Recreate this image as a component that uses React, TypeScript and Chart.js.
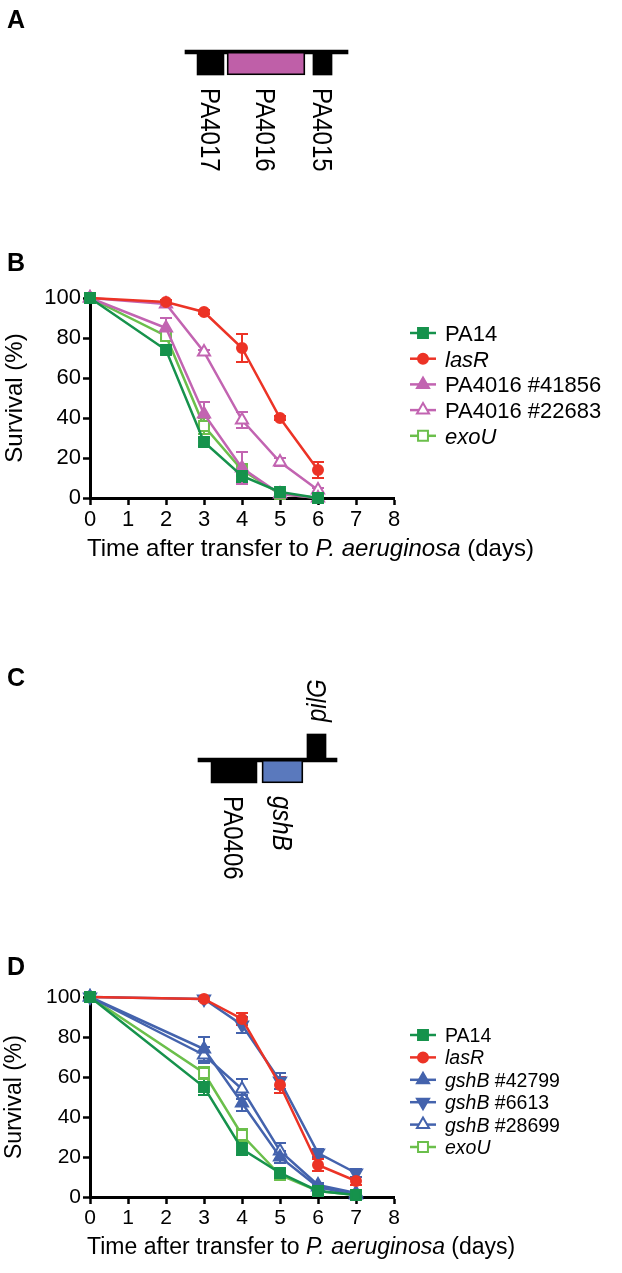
import React, { useEffect, useRef } from 'react';
import { Chart, registerables } from 'chart.js';
import { drawPoint } from 'chart.js/helpers';

Chart.register(...registerables);

const FONT = '"Liberation Sans", Arial, Helvetica, sans-serif';

// ---------- Panel A : gene neighbourhood of PA4016 ----------
const geneANames = ['PA4017', 'PA4016', 'PA4015'];
const geneAStart = [7.4, 25.8, 78.5];
const geneAEnd = [23.9, 73.6, 90.2];
const geneAStrand = [-1, -1, -1];
const geneAItalic = [false, false, false];
const geneAContig = [0, 100];

// ---------- Panel B : survival, PA4016 mutants ----------
const daysB = [0, 2, 3, 4, 5, 6];
const pa14B = [100, 74, 28, 11, 3, 0];
const pa14BErr = [0, 2, 2, 3, 1, 0];
const lasRB = [100, 98, 93, 75, 40, 14];
const lasRBErr = [0, 1, 1, 7, 1, 4];
const pa41856B = [100, 85, 42, 15, 2, 0];
const pa41856BErr = [0, 5, 6, 8, 1, 0];
const pa22683B = [100, 97, 73, 39, 18, 4];
const pa22683BErr = [0, 1, 1, 4, 2, 1];
const exoUB = [100, 81, 36, 14, 2, 0];
const exoUBErr = [0, 2, 4, 3, 1, 0];

// ---------- Panel C : gene neighbourhood of gshB ----------
const geneCNames = ['PA0406', 'gshB', 'pilG'];
const geneCStart = [9.4, 46.0, 78.4];
const geneCEnd = [42.4, 75.5, 92.1];
const geneCStrand = [-1, -1, 1];
const geneCItalic = [false, true, true];
const geneCContig = [0, 100];

// ---------- Panel D : survival, gshB mutants ----------
const daysD = [0, 3, 4, 5, 6, 7];
const pa14D = [100, 55, 24, 12, 3, 1];
const pa14DErr = [0, 4, 3, 2, 1, 0];
const lasRD = [100, 99, 89, 56, 16, 8];
const lasRDErr = [0, 1, 3, 4, 3, 2];
const gshB42799D = [100, 74, 47, 20, 5, 1];
const gshB42799DErr = [0, 6, 4, 3, 1, 0];
const gshB6613D = [100, 99, 86, 58, 22, 12];
const gshB6613DErr = [0, 1, 4, 4, 2, 2];
const gshB28699D = [100, 71, 54, 23, 6, 2];
const gshB28699DErr = [0, 4, 5, 4, 1, 1];
const exoUD = [100, 62, 31, 11, 3, 1];
const exoUDErr = [0, 3, 3, 2, 1, 0];

// axis ticks
const xTicks = [0, 1, 2, 3, 4, 5, 6, 7, 8];
const yTicks = [0, 20, 40, 60, 80, 100];

type Seg = [string, boolean];

const xTitle: Seg[] = [['Time after transfer to ', false], ['P. aeruginosa', true], [' (days)', false]];

// colours
const DKGREEN = '#16924c';
const RED = '#ec3326';
const MAGENTA = '#c264b1';
const LTGREEN = '#6bbf4b';
const BLUE = '#4463ad';
const MAGENTA_BOX = '#bf5fa8';
const BLUE_BOX = '#5a79bd';

function drawSegments(ctx: CanvasRenderingContext2D, segs: Seg[], x: number, y: number, size: number, family: string, align: 'left' | 'center') {
  const fontFor = (it: boolean) => `${it ? 'italic ' : ''}${size}px ${family}`;
  let total = 0;
  segs.forEach(([t, it]) => { ctx.font = fontFor(it); total += ctx.measureText(t).width; });
  let cx = align === 'center' ? x - total / 2 : x;
  ctx.textAlign = 'left';
  segs.forEach(([t, it]) => { ctx.font = fontFor(it); ctx.fillText(t, cx, y); cx += ctx.measureText(t).width; });
}

interface SeriesDef {
  segs: Seg[];
  values: number[];
  errors: number[];
  color: string;
  style: string;
  open: boolean;
  rotation: number;
  radius: number;
}

interface SurvivalOpts {
  days: number[];
  series: SeriesDef[];
  tickSize: number;
  legendSize: number;
  legendTop: number;
  legendGap: number;
  padTop: number;
  padBottom: number;
  titleSize: number;
  titleDy: number;
}

function makeSurvivalConfig(o: SurvivalOpts): any {
  const errorBars = {
    id: 'errorBars',
    beforeDatasetsDraw(chart: any) {
      const ctx = chart.ctx;
      const xs = chart.scales.x, ys = chart.scales.y;
      o.series.forEach((s) => {
        ctx.save();
        ctx.strokeStyle = s.color;
        ctx.lineWidth = 2;
        o.days.forEach((d, i) => {
          const e = s.errors[i];
          if (!e) return;
          const px = xs.getPixelForValue(d);
          const yt = ys.getPixelForValue(s.values[i] + e);
          const yb = ys.getPixelForValue(Math.max(0, s.values[i] - e));
          ctx.beginPath();
          ctx.moveTo(px, yt); ctx.lineTo(px, yb);
          ctx.moveTo(px - 6, yt); ctx.lineTo(px + 6, yt);
          ctx.moveTo(px - 6, yb); ctx.lineTo(px + 6, yb);
          ctx.stroke();
        });
        ctx.restore();
      });
    },
  };
  const sideLegend = {
    id: 'sideLegend',
    afterDraw(chart: any) {
      const ctx = chart.ctx;
      const area = chart.chartArea;
      const mx = area.right + 29;
      o.series.forEach((s, i) => {
        const y = area.top + o.legendTop + i * o.legendGap;
        ctx.save();
        ctx.strokeStyle = s.color;
        ctx.lineWidth = 2.5;
        ctx.beginPath();
        ctx.moveTo(mx - 13, y); ctx.lineTo(mx + 13, y);
        ctx.stroke();
        ctx.fillStyle = s.open ? '#ffffff' : s.color;
        ctx.lineWidth = 2;
        drawPoint(ctx, { pointStyle: s.style as any, rotation: s.rotation, radius: s.radius, borderWidth: 2 }, mx, y);
        ctx.fillStyle = '#000';
        ctx.textBaseline = 'alphabetic';
        drawSegments(ctx, s.segs, mx + 22, y + o.legendSize * 0.36, o.legendSize, FONT, 'left');
        ctx.restore();
      });
    },
  };
  const axisTitle = {
    id: 'axisTitle',
    afterDraw(chart: any) {
      const ctx = chart.ctx;
      const area = chart.chartArea;
      ctx.save();
      ctx.fillStyle = '#000';
      ctx.textBaseline = 'alphabetic';
      drawSegments(ctx, xTitle, area.left - 3, area.bottom + o.titleDy, o.titleSize, FONT, 'left');
      ctx.restore();
    },
  };
  const axisCommon = {
    grid: { display: true, drawOnChartArea: false, drawTicks: true, tickLength: 7, tickWidth: 2.5, color: '#000' },
    border: { display: true, color: '#000', width: 3 },
  };
  return {
    type: 'line',
    data: {
      datasets: o.series.map((s) => ({
        label: s.segs.map((g) => g[0]).join(''),
        data: o.days.map((d, i) => ({ x: d, y: s.values[i] })),
        borderColor: s.color,
        backgroundColor: s.open ? '#ffffff' : s.color,
        borderWidth: 2.5,
        pointStyle: s.style,
        pointRotation: s.rotation,
        pointRadius: s.radius,
        pointBorderWidth: 2,
        pointBackgroundColor: s.open ? '#ffffff' : s.color,
        pointBorderColor: s.color,
        tension: 0,
        fill: false,
        clip: false,
      })),
    },
    options: {
      responsive: false,
      animation: false,
      events: [],
      devicePixelRatio: 1,
      layout: { padding: { top: o.padTop, bottom: o.padBottom, left: 0, right: 622 - 394 } },
      plugins: { legend: { display: false }, tooltip: { enabled: false } },
      scales: {
        x: {
          type: 'linear', min: xTicks[0], max: xTicks[xTicks.length - 1],
          afterBuildTicks: (s: any) => { s.ticks = xTicks.map((v) => ({ value: v })); },
          afterFit: (s: any) => { s.height = 40; },
          ticks: { color: '#000', font: { family: FONT, size: o.tickSize }, padding: 2, maxRotation: 0, autoSkip: false },
          ...axisCommon,
        },
        y: {
          type: 'linear', min: yTicks[0], max: yTicks[yTicks.length - 1],
          afterBuildTicks: (s: any) => { s.ticks = yTicks.map((v) => ({ value: v })); },
          afterFit: (s: any) => { s.width = 90; },
          ticks: { color: '#000', font: { family: FONT, size: o.tickSize }, padding: 2 },
          title: { display: true, text: 'Survival (%)', color: '#000', font: { family: FONT, size: o.titleSize }, padding: { top: 1, bottom: 0 } },
          ...axisCommon,
        },
      },
    },
    plugins: [errorBars, sideLegend, axisTitle],
  };
}

function makeGeneConfig(names: string[], starts: number[], ends: number[], strands: number[], italics: boolean[], fills: string[], contig: number[], pad: { top: number; bottom: number; left: number; right: number }): any {
  const labels = {
    id: 'geneLabels',
    afterDraw(chart: any) {
      const ctx = chart.ctx;
      names.forEach((n, i) => {
        const el = chart.getDatasetMeta(i).data[0];
        const { x, y, base, height } = el.getProps(['x', 'y', 'base', 'height'], true);
        const cx = (x + base) / 2;
        const size = 24;
        const stretch = 1.15;
        const cap = size * 0.716 * stretch;
        ctx.save();
        ctx.fillStyle = '#000';
        ctx.font = `${italics[i] ? 'italic ' : ''}${size}px ${FONT}`;
        ctx.textAlign = 'left';
        ctx.textBaseline = 'alphabetic';
        if (strands[i] < 0) {
          const top = y + height / 2 + 13;
          ctx.translate(cx, top);
          ctx.rotate(Math.PI / 2);
        } else {
          const bottom = y - height / 2 - 12;
          ctx.translate(cx, bottom);
          ctx.rotate(-Math.PI / 2);
        }
        ctx.translate(0, cap / 2);
        ctx.scale(1, stretch);
        ctx.fillText(n, 0, 0);
        ctx.restore();
      });
    },
  };
  return {
    type: 'bar',
    data: {
      datasets: [
        ...names.map((n, i) => ({
          label: n,
          data: [{ x: [starts[i], ends[i]], y: strands[i] < 0 ? -0.5 : 13 / 23 }],
          backgroundColor: fills[i],
          borderColor: '#000',
          borderWidth: fills[i] === '#000000' ? 0 : 1.8,
          barThickness: strands[i] < 0 ? 23 : 26,
          borderSkipped: false,
          stack: 'map',
          clip: false,
        })),
        {
          label: 'contig',
          data: [{ x: contig, y: 0 }],
          backgroundColor: '#000',
          borderWidth: 0,
          barThickness: 4,
          borderSkipped: false,
          stack: 'map',
          clip: false,
        },
      ],
    },
    options: {
      indexAxis: 'y',
      responsive: false,
      animation: false,
      events: [],
      devicePixelRatio: 1,
      layout: { padding: pad },
      plugins: { legend: { display: false }, tooltip: { enabled: false } },
      scales: {
        x: { type: 'linear', display: false, min: contig[0], max: contig[1], stacked: false, offset: false },
        y: { type: 'linear', display: false, min: -2, max: 1, offset: false },
      },
    },
    plugins: [labels],
  };
}

const seriesB: SeriesDef[] = [
  { segs: [['PA14', false]], values: pa14B, errors: pa14BErr, color: DKGREEN, style: 'rect', open: false, rotation: 0, radius: 7 },
  { segs: [['lasR', true]], values: lasRB, errors: lasRBErr, color: RED, style: 'circle', open: false, rotation: 0, radius: 5 },
  { segs: [['PA4016 #41856', false]], values: pa41856B, errors: pa41856BErr, color: MAGENTA, style: 'triangle', open: false, rotation: 0, radius: 7 },
  { segs: [['PA4016 #22683', false]], values: pa22683B, errors: pa22683BErr, color: MAGENTA, style: 'triangle', open: true, rotation: 0, radius: 7 },
  { segs: [['exoU', true]], values: exoUB, errors: exoUBErr, color: LTGREEN, style: 'rect', open: true, rotation: 0, radius: 7 },
];

const seriesD: SeriesDef[] = [
  { segs: [['PA14', false]], values: pa14D, errors: pa14DErr, color: DKGREEN, style: 'rect', open: false, rotation: 0, radius: 7 },
  { segs: [['lasR', true]], values: lasRD, errors: lasRDErr, color: RED, style: 'circle', open: false, rotation: 0, radius: 5 },
  { segs: [['gshB', true], [' #42799', false]], values: gshB42799D, errors: gshB42799DErr, color: BLUE, style: 'triangle', open: false, rotation: 0, radius: 7 },
  { segs: [['gshB', true], [' #6613', false]], values: gshB6613D, errors: gshB6613DErr, color: BLUE, style: 'triangle', open: false, rotation: 180, radius: 7 },
  { segs: [['gshB', true], [' #28699', false]], values: gshB28699D, errors: gshB28699DErr, color: BLUE, style: 'triangle', open: true, rotation: 0, radius: 7 },
  { segs: [['exoU', true]], values: exoUD, errors: exoUDErr, color: LTGREEN, style: 'rect', open: true, rotation: 0, radius: 7 },
];

function ChartBox({ make, top, height }: { make: () => any; top: number; height: number }) {
  const ref = useRef<HTMLCanvasElement>(null);
  useEffect(() => {
    const chart = new Chart(ref.current as HTMLCanvasElement, make());
    return () => chart.destroy();
  }, []);
  return (
    <canvas
      ref={ref}
      width={622}
      height={height}
      style={{ position: 'absolute', left: 0, top, width: 622, height }}
    />
  );
}

const letterStyle = (top: number): React.CSSProperties => ({
  position: 'absolute', left: 7, top, fontFamily: FONT, fontWeight: 'bold', fontSize: 25, lineHeight: '25px', color: '#000',
});

export default function App() {
  return (
    <div style={{ position: 'absolute', left: 0, top: 0, width: 622, height: 1273, background: '#fff', overflow: 'hidden' }}>
      <ChartBox
        top={0}
        height={200}
        make={() => makeGeneConfig(geneANames, geneAStart, geneAEnd, geneAStrand, geneAItalic, ['#000000', MAGENTA_BOX, '#000000'], geneAContig, { top: 29, bottom: 102, left: 185, right: 622 - 348 })}
      />
      <ChartBox
        top={235}
        height={345}
        make={() => makeSurvivalConfig({ days: daysB, series: seriesB, tickSize: 22, legendSize: 22, legendTop: 35, legendGap: 25.7, padTop: 63, padBottom: 42, titleSize: 24, titleDy: 58 })}
      />
      <ChartBox
        top={640}
        height={260}
        make={() => makeGeneConfig(geneCNames, geneCStart, geneCEnd, geneCStrand, geneCItalic, ['#000000', BLUE_BOX, '#000000'], geneCContig, { top: 97, bottom: 94, left: 198, right: 622 - 337 })}
      />
      <ChartBox
        top={925}
        height={348}
        make={() => makeSurvivalConfig({ days: daysD, series: seriesD, tickSize: 21, legendSize: 19.5, legendTop: 38, legendGap: 22.4, padTop: 72, padBottom: 36, titleSize: 23, titleDy: 57 })}
      />
      <div style={letterStyle(7)}>A</div>
      <div style={letterStyle(250)}>B</div>
      <div style={letterStyle(665)}>C</div>
      <div style={letterStyle(954)}>D</div>
    </div>
  );
}
